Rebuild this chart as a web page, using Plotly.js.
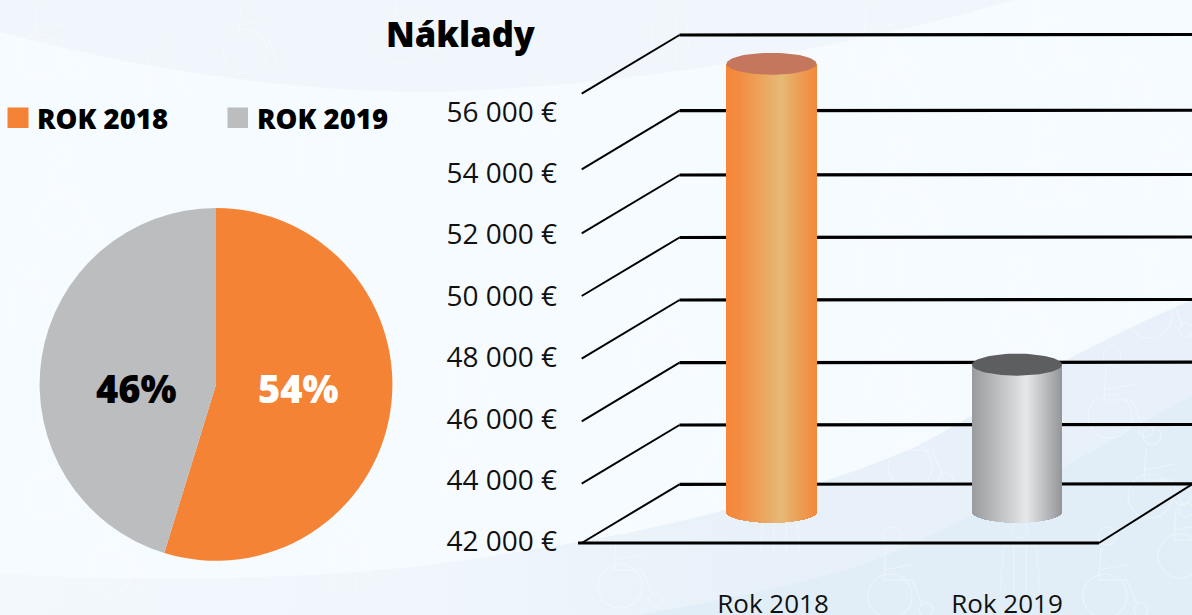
<!DOCTYPE html>
<html><head><meta charset="utf-8">
<script src="https://cdn.plot.ly/plotly-3.0.1.min.js"></script>
<style>html,body{margin:0;padding:0;background:#f6fbff;overflow:hidden}#c{width:1192px;height:615px}</style>
</head><body><div id="c"></div>
<script>
// ---- data ----
const years = ['ROK 2018', 'ROK 2019'];
const barLabels = ['Rok 2018', 'Rok 2019'];
const costs = [56600, 46800];
const pieText = ['54%', '46%'];
const tickValues = [42000, 44000, 46000, 48000, 50000, 52000, 54000, 56000];
const tickLabels = ['42 000 €', '44 000 €', '46 000 €', '48 000 €', '50 000 €', '52 000 €', '54 000 €', '56 000 €'];
const gridFront = [41951, 43883, 45915, 47954, 49997, 52039, 54124, 56586];
const gridBack = [43863, 45795, 47824, 49866, 51902, 53938, 56032, 58498];
const sliceColors = ['#f58336', '#bcbdbf'];
const gradientStops = [
  [[-1, '#f5873a'], [-0.75, '#f38b40'], [0.22, '#e5ba76'], [0.45, '#e9a862'], [1, '#f2883b']],
  [[-1, '#9a9b9e'], [0.22, '#e6e7e8'], [0.4, '#d3d4d6'], [1, '#949598']]
];
const topColors = ['#c4775c', '#5d5e60'];

// ---- geometry of the fake 3D view, in axis units ----
const W = 1192, H = 615;
const pxX = 245.5;            // px per category slot
const pxY = 61.4 / 2000;      // px per euro
const xOf = p => (p - 771.5) / pxX;
const yOf = p => 42000 + (541.5 - p) / pxY;
const floorOffset = 961;      // bars stand this far up the axis, on the floor
const halfW = 45 / pxX, ry = 11 / pxY;
const xLeft = xOf(581.7), xBackLeft = xOf(679.5), xFrontRight = xOf(1099), xEnd = xOf(1192);

function hex(c){return [1,3,5].map(i=>parseInt(c.substr(i,2),16));}
function grad(stops,t){
  for(let i=0;i<stops.length-1;i++){
    const a=stops[i],b=stops[i+1];
    if(t<=b[0]){const f=(t-a[0])/(b[0]-a[0]);const A=hex(a[1]),B=hex(b[1]);
      return 'rgb('+A.map((v,k)=>Math.round(v+(B[k]-v)*f)).join(',')+')';}
  }
  return stops[stops.length-1][1];
}
const seg=(x0,y0,x1,y1,w)=>({type:'line',xref:'x',yref:'y',x0,y0,x1,y1,line:{color:'#000',width:w},layer:'below'});
const gridShapes=[];
gridFront.forEach((f,i)=>{
  gridShapes.push(seg(xLeft,f,xBackLeft,gridBack[i],2));
  gridShapes.push(seg(xBackLeft,gridBack[i],xEnd,gridBack[i]+16,3.2));
});
gridShapes.push(seg(xOf(578),gridFront[0],xFrontRight,gridFront[0],3.2));
gridShapes.push(seg(xFrontRight,gridFront[0],xEnd,gridBack[0],2));

const traces = [];
// cylinders
costs.forEach((v,k)=>{
  const n=91, xs=[], ys=[], bs=[], cs=[];
  const bottom=42000+floorOffset, top=v+floorOffset;
  for(let i=0;i<n;i++){
    const t=-1+2*(i+0.5)/n;
    xs.push(k+t*halfW);
    const b=bottom-ry*Math.sqrt(1-t*t);
    bs.push(b); ys.push(top-b); cs.push(grad(gradientStops[k],t));
  }
  traces.push({type:'bar',x:xs,y:ys,base:bs,width:2*halfW/n*1.02,marker:{color:cs,line:{width:0}},hoverinfo:'skip',showlegend:false});
  const ex=[],ey=[];
  for(let a=0;a<=72;a++){const th=a/72*2*Math.PI;ex.push(k+halfW*Math.cos(th));ey.push(top+ry*Math.sin(th));}
  traces.push({type:'scatter',mode:'lines',x:ex,y:ey,fill:'toself',fillcolor:topColors[k],line:{width:0,color:topColors[k]},hoverinfo:'skip',showlegend:false});
});
// pie
traces.push({type:'pie',values:costs,labels:years,sort:false,direction:'clockwise',rotation:0,textinfo:'none',
  marker:{colors:sliceColors,line:{width:0}},showlegend:false,hole:0,
  domain:{x:[39.3/W,392.7/W],y:[(H-560.8)/H,(H-208)/H]}});

// ---- decorative page background (curved bands and faint pictograms) ----
const chair='<g id="i" fill="none" stroke="#fff" stroke-opacity=".35" stroke-width="1.2"><circle cx="22" cy="-34" r="9"/><path d="M16 -22 L14 10 L42 10 L52 34 M14 0 L44 -6"/><circle cx="20" cy="26" r="22"/><circle cx="56" cy="40" r="7"/></g>';
const fig='<g id="j" fill="none" stroke="#fff" stroke-opacity=".3" stroke-width="1.2"><circle cx="20" cy="-30" r="8"/><path d="M4 -14 L36 -14 L40 30 M4 -14 L0 30 M14 -14 L14 34 M26 -14 L26 34"/></g>';
const iconPos=[[20,30,'i'],[225,25,'i'],[380,15,'i'],[650,30,'j'],[850,30,'i'],[1020,25,'i'],
 [145,70,'j'],[520,110,'j'],[740,120,'i'],[875,90,'j'],[1110,95,'j'],
 [40,190,'i'],[300,150,'j'],[880,180,'i'],[1020,160,'i'],[1150,170,'j'],
 [10,300,'j'],[260,260,'i'],[860,260,'j'],[1000,300,'i'],[1130,290,'i'],
 [450,380,'j'],[640,330,'i'],[870,370,'j'],[1090,390,'i'],
 [30,470,'i'],[440,470,'j'],[700,450,'i'],[890,440,'i'],[1130,470,'i'],
 [90,545,'i'],[330,560,'j'],[600,560,'i'],[760,520,'j'],[870,570,'i'],[1000,560,'j'],[1085,570,'i'],[1160,530,'i']];
const bg='<svg xmlns="http://www.w3.org/2000/svg" xmlns:xlink="http://www.w3.org/1999/xlink" width="'+W+'" height="'+H+'" viewBox="0 0 '+W+' '+H+'">'+
 '<defs><linearGradient id="a" gradientUnits="userSpaceOnUse" x1="0" y1="0" x2="750" y2="0"><stop offset="0" stop-color="#f3f8fd"/><stop offset=".55" stop-color="#f0f6fc"/><stop offset="1" stop-color="#e8f1f9"/></linearGradient>'+chair+fig+'</defs>'+
 '<rect width="'+W+'" height="'+H+'" fill="#f6fbff"/>'+
 '<path d="M0 0 L0 32 C150 72 300 92 430 92 C600 88 800 60 1015 0 Z" fill="#f0f6fc"/>'+
 '<path d="M0 615 L0 574 C150 582 300 580 430 565 C520 552 600 540 673 523 C760 502 850 476 915 447 C980 415 1040 365 1192 300 L1192 615 Z" fill="url(#a)"/>'+
 '<path d="M640 615 C720 600 800 585 867 563 C950 530 1060 470 1192 395 L1192 615 Z" fill="#e2eef7"/>'+
 iconPos.map(p=>'<use xlink:href="#'+p[2]+'" href="#'+p[2]+'" x="'+p[0]+'" y="'+p[1]+'"/>').join('')+'</svg>';

const font='"Open Sans", sans-serif';
const ann=(x,y,text,size,color,weight,anchor)=>({xref:'paper',yref:'paper',x:x/W,y:1-y/H,xanchor:anchor||'center',yanchor:'middle',text,showarrow:false,font:{family:font,size,color,weight:weight||400}});
const rect=(x0,y0,x1,y1,c)=>({type:'rect',xref:'paper',yref:'paper',x0:x0/W,x1:x1/W,y0:1-y0/H,y1:1-y1/H,fillcolor:c,line:{width:0},layer:'below'});
const layout={
  width:W,height:H,margin:{l:0,r:0,t:0,b:0},paper_bgcolor:'#f6fbff',plot_bgcolor:'rgba(0,0,0,0)',
  barmode:'overlay',bargap:0,showlegend:false,
  images:[{source:'data:image/svg+xml;charset=utf-8,'+encodeURIComponent(bg),xref:'paper',yref:'paper',x:0,y:1,sizex:1,sizey:1,xanchor:'left',yanchor:'top',sizing:'stretch',layer:'below'}],
  xaxis:{domain:[575/W,1],range:[xOf(575),xEnd],showgrid:false,zeroline:false,showline:false,
    tickmode:'array',tickvals:[xOf(773),xOf(1007)],ticktext:barLabels,ticks:'',ticklabelstandoff:1,
    tickfont:{family:font,size:26,color:'#111'}},
  yaxis:{domain:[30/H,1],range:[yOf(585),yOf(0)],showgrid:false,zeroline:false,showline:false,
    tickmode:'array',tickvals:tickValues,ticktext:tickLabels,ticks:'',ticklabelstandoff:17,
    tickfont:{family:font,size:28,color:'#111'}},
  shapes:[
    rect(7.5,107.5,28.5,128,sliceColors[0]),
    rect(227.5,107.5,248,128,sliceColors[1])
  ].concat(gridShapes),
  annotations:[
    ann(460.5,33,'Náklady',34.5,'#000',800),
    ann(35,118,years[0],27.5,'#000',800,'left'),
    ann(255,118,years[1],27.5,'#000',800,'left'),
    ann(298.5,387.5,pieText[0],38,'#fff',800),
    ann(136,387.5,pieText[1],38,'#000',800)
  ]
};
Plotly.newPlot('c',traces,layout,{staticPlot:true,displayModeBar:false});
</script></body></html>
